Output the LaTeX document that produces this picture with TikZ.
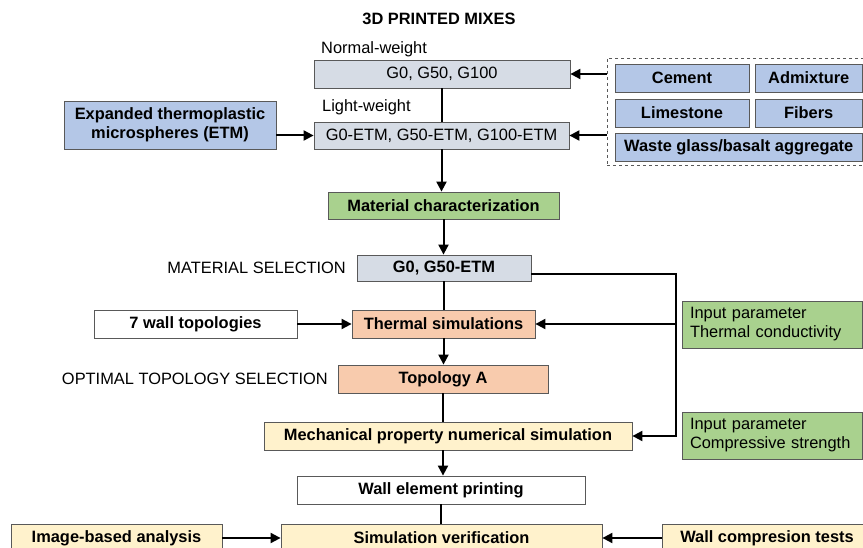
\documentclass[tikz,border=0pt]{standalone}
\usepackage{fontspec}
\setmainfont{Liberation Sans}
\usepackage{xcolor}
\usetikzlibrary{arrows.meta}
\definecolor{edgegrey}{HTML}{595959}
\definecolor{mixblue}{HTML}{B4C7E7}
\definecolor{mixgrey}{HTML}{D6DCE5}
\definecolor{stepgreen}{HTML}{A9D18E}
\definecolor{stepsalmon}{HTML}{F8CBAD}
\definecolor{stepcream}{HTML}{FFF2CC}

\begin{document}
\begin{tikzpicture}[x=1pt,y=-1pt,
  box/.style={draw=edgegrey, line width=0.8pt, inner sep=0pt, minimum height=28,
    font=\fontsize{16.4}{19}\selectfont},
  boldbox/.style={box, font=\fontsize{16.4}{19}\selectfont\bfseries},
  plaintext/.style={inner sep=0pt, font=\fontsize{16.4}{19}\selectfont},
  flow/.style={line width=2pt, -{Triangle[length=10pt,width=10pt]}},
  link/.style={line width=2pt}]
  \useasboundingbox (0,0) rectangle (863,548);
  \clip (0,0) rectangle (863,548);
  \coordinate (corner) at (676,274);
  % mixes
  \node[plaintext, font=\fontsize{16.4}{19}\selectfont\bfseries] (title) at (439,19) {3D PRINTED MIXES};
  \node[plaintext, anchor=base west] (nwlbl) at (321,54) {Normal-weight};
  \node[plaintext, anchor=base west] (lwlbl) at (322,112) {Light-weight};
  \node[box, fill=mixgrey, minimum width=256] (normal) at (442,74) {G0, G50, G100};
  \node[box, fill=mixgrey, minimum width=255, minimum height=27] (light) at (441.5,135.5) {G0-ETM, G50-ETM, G100-ETM};
  \node[boldbox, fill=mixblue, minimum width=212, minimum height=48, align=center] (etm) at (170,125)
    {Expanded thermoplastic\\microspheres (ETM)};
  % ingredients
  \node[draw=edgegrey, dashed, line width=0.8pt, minimum width=261, minimum height=107] (frame) at (737.5,111.5) {};
  \node[boldbox, fill=mixblue, minimum width=134] (cement) at (682,78) {Cement};
  \node[boldbox, fill=mixblue, minimum width=107.5] (admix) at (808.75,78) {Admixture};
  \node[boldbox, fill=mixblue, minimum width=134] (lime) at (682,113) {Limestone};
  \node[boldbox, fill=mixblue, minimum width=107.5] (fibers) at (808.75,113) {Fibers};
  \node[boldbox, fill=mixblue, minimum width=247.5] (waste) at (738.75,147) {Waste glass/basalt aggregate};
  % workflow
  \node[boldbox, fill=stepgreen, minimum width=231, minimum height=27] (matchar) at (443.5,205.5) {Material characterization};
  \node[boldbox, fill=mixgrey, minimum width=174, minimum height=26] (select) at (444,268) {G0, G50-ETM};
  \node[plaintext, anchor=east] (sellbl) at (346,268) {MATERIAL SELECTION};
  \node[boldbox, fill=white, minimum width=203] (walls) at (195.5,324) {7 wall topologies};
  \node[boldbox, fill=stepsalmon, minimum width=183] (thermal) at (443.5,324) {Thermal simulations};
  \node[boldbox, fill=stepsalmon, minimum width=210] (topo) at (443,379) {Topology A};
  \node[plaintext, anchor=east] (optlbl) at (328,379) {OPTIMAL TOPOLOGY SELECTION};
  \node[boldbox, fill=stepcream, minimum width=368] (mech) at (448,436) {Mechanical property numerical simulation};
  \node[box, fill=stepgreen, text width=164.5, inner xsep=8, minimum height=47, align=left] (inthermal) at (772.25,324.5)
    {Input parameter\\Thermal conductivity};
  \node[box, fill=stepgreen, text width=164.5, inner xsep=8, minimum height=47, align=left] (incomp) at (772.25,435.5)
    {Input parameter\\Compressive strength};
  \node[boldbox, fill=white, minimum width=288] (printing) at (441,490) {Wall element printing};
  \node[boldbox, fill=stepcream, minimum width=211] (imaging) at (116.5,538) {Image-based analysis};
  \node[boldbox, fill=stepcream, minimum width=321] (verify) at (441.5,538) {Simulation verification};
  \node[boldbox, fill=stepcream, minimum width=210] (comptest) at (767,538) {Wall compresion tests};
  % connectors
  \draw[link] (normal.south) -- (normal.south |- light.north);
  \draw[flow] (light.south) -- (light.south |- matchar.north);
  \draw[flow] (matchar.south) -- (matchar.south |- select.north);
  \draw[link] (select.south) -- (select.south |- thermal.north);
  \draw[flow] (thermal.south) -- (thermal.south |- topo.north);
  \draw[link] (topo.south) -- (topo.south |- mech.north);
  \draw[flow] (topo.south |- mech.south) -- (topo.south |- printing.north);
  \draw[link] (printing.south) -- (printing.south |- verify.north);
  \draw[flow] (frame.west |- normal.east) -- (normal.east);
  \draw[flow] (frame.west |- light.east) -- (light.east);
  \draw[flow] (etm.east |- light.west) -- (light.west);
  \draw[flow] (walls) -- (thermal);
  \draw[flow] (select.east |- corner) -- (corner) -- (corner |- mech.east) -- (mech.east);
  \draw[flow] (corner |- thermal.east) -- (thermal.east);
  \draw[flow] (imaging) -- (verify);
  \draw[flow] (comptest) -- (verify);
\end{tikzpicture}
\end{document}
